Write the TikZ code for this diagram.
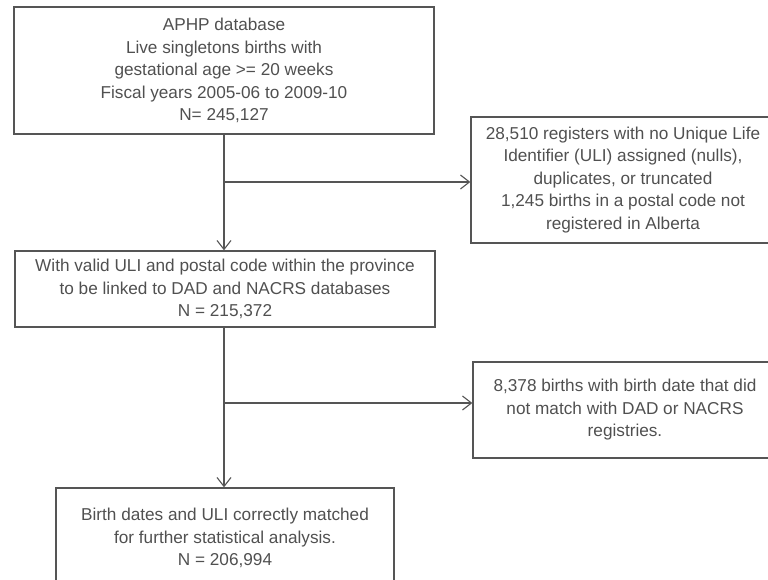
\documentclass[tikz,border=0pt]{standalone}
\usepackage{fontspec}
\setmainfont{Liberation Sans}
\usetikzlibrary{arrows.meta}
\definecolor{boxline}{HTML}{555555}
\definecolor{boxtext}{HTML}{505050}
\tikzset{
  every node/.style={draw=boxline,line width=1.3pt,align=center,inner sep=0pt,
    text=boxtext,font=\fontsize{17.2}{22.5}\selectfont},
  link/.style={draw=boxline,line width=1.3pt,-{Straight Barb[length=9pt,width=14pt,line width=1.1pt]}}
}
\begin{document}
\begin{tikzpicture}[x=1pt,y=-1pt]
      \useasboundingbox (0,0) rectangle (768,580);
      \clip (0,0) rectangle (768,580);
      \node[minimum width=420pt,minimum height=127pt] (aphp) at (224,70.5)
        {APHP database\\Live singletons births with\\gestational age >= 20 weeks\\Fiscal years 2005-06 to 2009-10\\N= 245,127};
      \node[minimum width=304pt,minimum height=126pt] (noULI) at (623,180)
        {28,510 registers with no Unique Life\\Identifier (ULI) assigned (nulls),\\duplicates, or truncated\\1,245 births in a postal code not\\registered in Alberta};
      \node[minimum width=420pt,minimum height=76pt] (valid) at (225,289)
        {With valid ULI and postal code within the province\\to be linked to DAD and NACRS databases\\N = 215,372};
      \node[minimum width=304pt,minimum height=96pt] (nomatch) at (625,410)
        {8,378 births with birth date that did\\not match with DAD or NACRS\\registries.};
      \node[minimum width=338pt,minimum height=100pt] (matched) at (225,538)
        {Birth dates and ULI correctly matched\\for further statistical analysis.\\N = 206,994};

      \coordinate (b1) at (224,182);
      \coordinate (b2) at (224,403);
      \draw[link] (aphp.south -| b1) -- (valid.north -| b1);
      \draw[link] (b1) -- (b1 -| noULI.west);
      \draw[link] (valid.south -| b2) -- (matched.north -| b2);
      \draw[link] (b2) -- (b2 -| nomatch.west);
\end{tikzpicture}
\end{document}
